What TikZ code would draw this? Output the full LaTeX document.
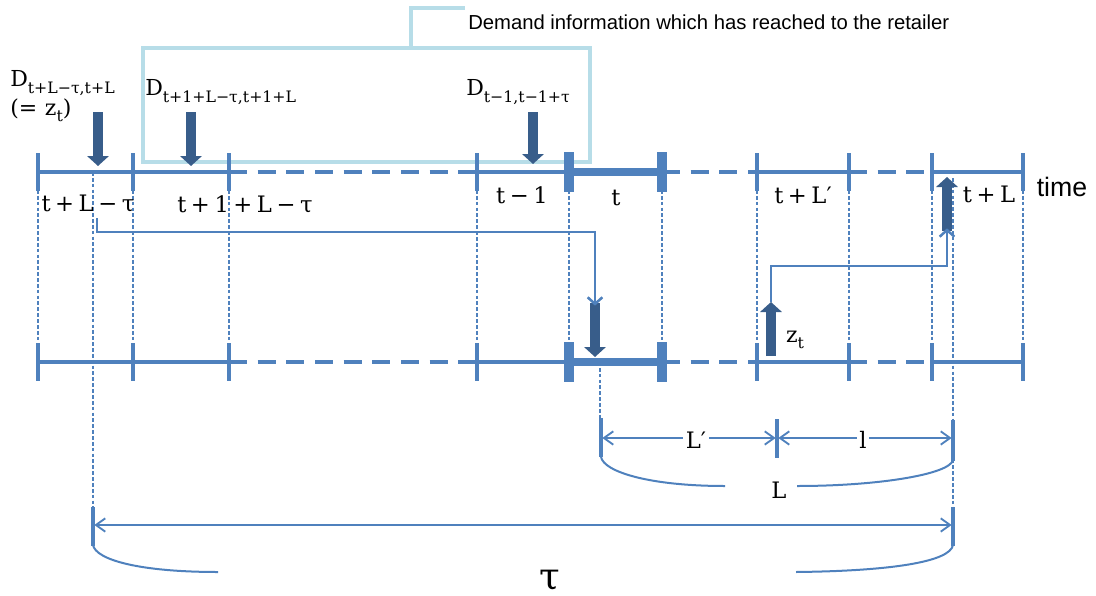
\documentclass[tikz,border=0pt]{standalone}
\usepackage{fontspec}
\newfontfamily\uifont{Liberation Sans}
\newfontfamily\labelfont{DejaVu Serif}
\usetikzlibrary{arrows.meta}
\definecolor{lineblue}{RGB}{79,129,189}
\definecolor{arrowblue}{RGB}{56,93,138}
\definecolor{boxblue}{RGB}{183,221,232}
% spacing around binary signs and lowered indices
\newcommand{\gp}{\hspace{0.2em}}
\newcommand{\lowsub}[2][11.8]{\raisebox{-0.28em}{\fontsize{#1}{#1}\selectfont #2}}
\begin{document}
\begin{tikzpicture}[x=0.75pt,y=-0.75pt,
  axis/.style={lineblue,line width=3.4pt},
  axisthick/.style={lineblue,line width=6.6pt},
  dashseg/.style={dash pattern=on 13.5pt off 8pt},
  tickline/.style={lineblue,line width=3.4pt},
  tickthick/.style={lineblue,line width=7pt},
  guide/.style={lineblue,line width=1.1pt,dash pattern=on 2.8pt off 1.6pt},
  blockarrow/.style={arrowblue,line width=7.5pt,-{Triangle[length=7.5pt,width=16pt]}},
  conn/.style={lineblue,line width=1.9pt,-{Straight Barb[length=5pt,width=11pt]}},
  dim/.style={lineblue,line width=1.4pt,{Straight Barb[length=7pt,width=10pt]}-{Straight Barb[length=7pt,width=10pt]}},
  brace/.style={lineblue,line width=1.5pt},
  bracetick/.style={lineblue,line width=3pt},
  callout/.style={boxblue,line width=3.2pt},
  lbl/.style={inner sep=0pt,font=\labelfont\fontsize{17}{20}\selectfont},
  dlbl/.style={inner sep=0pt,font=\labelfont\fontsize{16.5}{20}\selectfont},
  ui/.style={inner sep=0pt,font=\uifont}
]
\useasboundingbox (0,0) rectangle (1096,596);

% information box with its callout
\draw[callout] (143,48) rectangle (590,162);
\draw[callout] (411,48) -- (411,8) -- (465,8);
\node[ui,anchor=west,font=\uifont\fontsize{15.2}{17}\selectfont] (info) at (468,22)
  {Demand information which has reached to the retailer};

% guide lines below every tick
\foreach \x in {38,133,229,477,569,662,757,849,932,1023}
  \draw[guide] (\x,190) -- (\x,342);
\draw[guide] (93,172) -- (93,507);
\draw[guide] (953,178) -- (953,507);
\draw[guide] (600,362) -- (600,420);

% the two time axes
\foreach \y in {172,362}{
  \draw[axis] (38,\y) -- (229,\y);
  \draw[axis,dashseg] (229,\y) -- (477,\y);
  \draw[axis] (477,\y) -- (569,\y);
  \draw[axisthick] (569,\y) -- (662,\y);
  \draw[axis,dashseg] (662,\y) -- (757,\y);
  \draw[axis] (757,\y) -- (849,\y);
  \draw[axis,dashseg] (849,\y) -- (932,\y);
  \draw[axis] (932,\y) -- (1023,\y);
  \foreach \x in {38,133,229,477,757,849,932,1023}
    \draw[tickline] (\x,\y-19) -- (\x,\y+19);
  \foreach \x in {569,662}
    \draw[tickthick] (\x,\y-20) -- (\x,\y+20);
}

% period labels
\node[lbl] (p1) at (88,204) {t\gp+\gp L\gp−\gp τ};
\node[lbl] (p2) at (245,204) {t\gp+\gp 1\gp+\gp L\gp−\gp τ};
\node[lbl] (p3) at (522,195) {t\gp−\gp 1};
\node[lbl] (p4) at (616,198) {t};
\node[lbl] (p5) at (803,195) {t\gp+\gp L′};
\node[lbl] (p6) at (989,194) {t\gp+\gp L};
\node[ui,font=\uifont\fontsize{20}{22}\selectfont] (time) at (1062,187) {time};

% demand labels
\node[dlbl,anchor=west] (d1) at (10,83) {D\lowsub{t+L−τ,t+L}};
\node[dlbl,anchor=west] (d1b) at (10,110) {(=\hspace{0.35em}z\lowsub{t})};
\node[dlbl,anchor=west] (d2) at (145,92) {D\lowsub{t+1+L−τ,t+1+L}};
\node[dlbl,anchor=west] (d3) at (466,92) {D\lowsub{t−1,t−1+τ}};
\node[dlbl] (zt) at (795,340) {z\lowsub{t}};

% block arrows
\coordinate (a1s) at (98,112);  \coordinate (a1e) at (98,166);
\coordinate (a2s) at (191,112); \coordinate (a2e) at (191,166);
\coordinate (a3s) at (533,112); \coordinate (a3e) at (533,164);
\coordinate (a4s) at (595,303); \coordinate (a4e) at (595,357);
\coordinate (a5s) at (771,356); \coordinate (a5e) at (771,302);
\coordinate (a6s) at (947,231); \coordinate (a6e) at (947,177);
\draw[blockarrow] (a1s) -- (a1e);
\draw[blockarrow] (a2s) -- (a2e);
\draw[blockarrow] (a3s) -- (a3e);
\draw[blockarrow] (a4s) -- (a4e);
\draw[blockarrow] (a5s) -- (a5e);
\draw[blockarrow] (a6s) -- (a6e);

% routing of the order information
\coordinate (r1) at (97,218);
\draw[conn] (r1) |- (595,232) -- ([yshift=-2pt]a4s);
\draw[conn] (a5e) |- (947,266) -- ([yshift=2pt]a6s);

% lead time dimensions
\coordinate (l0) at (601,438);
\coordinate (l1) at (777,438);
\coordinate (l2) at (953,438);
\draw[bracetick] (601,418) -- (601,457);
\draw[bracetick] (777,419) -- (777,458);
\draw[bracetick] (953,420) -- (953,461);
\draw[dim] ([xshift=1pt]l0) -- ([xshift=-1pt]l1);
\draw[dim] ([xshift=1pt]l1) -- ([xshift=-1pt]l2);
\node[lbl,fill=white,inner xsep=2pt] (lp) at (696,440) {L′};
\node[lbl,fill=white,inner xsep=2pt] (ll) at (863,440) {l};
\draw[brace] (601,457) .. controls (604,472) and (650,486) .. (725,486);
\draw[brace] (797,486) .. controls (880,486) and (950,474) .. (953,460);
\node[lbl] (bigL) at (779,490) {L};

% information lead time
\coordinate (t0) at (93,525);
\coordinate (t1) at (953,525);
\draw[bracetick] (93,507) -- (93,546);
\draw[bracetick] (953,507) -- (953,546);
\draw[dim] ([xshift=1pt]t0) -- ([xshift=-1pt]t1);
\draw[brace] (93,545) .. controls (96,560) and (140,572) .. (218,572);
\draw[brace] (796,572) .. controls (890,571) and (950,562) .. (953,545);
\node[inner sep=0pt,font=\labelfont\fontsize{28}{30}\selectfont] (tau) at (550,580) {τ};
\end{tikzpicture}
\end{document}
